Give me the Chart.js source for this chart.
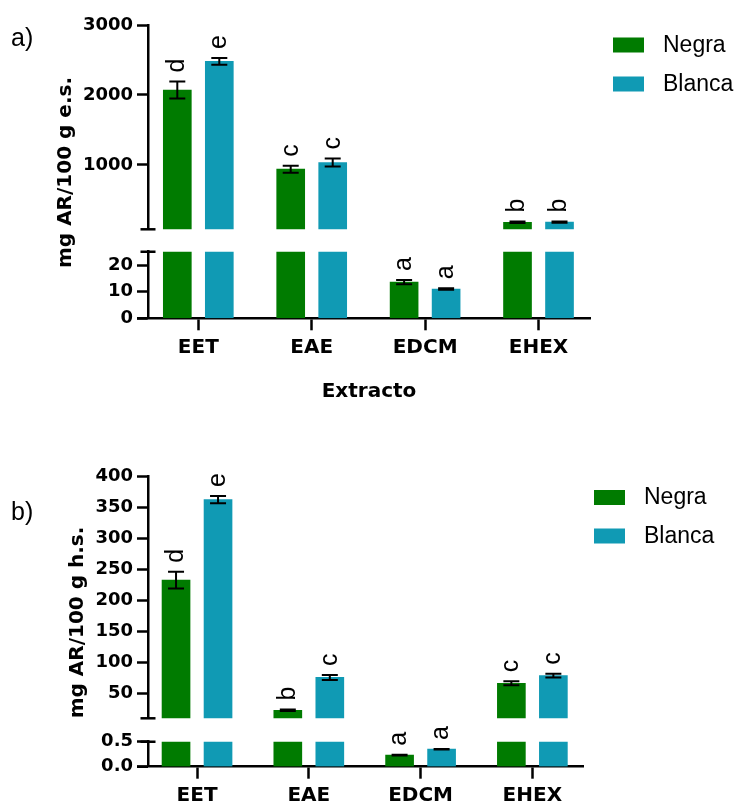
<!DOCTYPE html>
<html><head><meta charset="utf-8">
<script src="https://cdn.jsdelivr.net/npm/chart.js@4.4.1/dist/chart.umd.min.js"></script>
<style>
html,body{margin:0;padding:0;background:#fff;}
#wrap{position:relative;width:735px;height:804px;overflow:hidden;background:#fff;}
.box{position:absolute;left:0;top:0;width:735px;height:804px;}
</style></head><body>
<div id="wrap">
<div class="box"><canvas id="a1"></canvas></div>
<div class="box"><canvas id="a2"></canvas></div>
<div class="box"><canvas id="b1"></canvas></div>
<div class="box"><canvas id="b2"></canvas></div>
</div>
<script>
// ---------- data ----------
const CATEGORIES = ['EET', 'EAE', 'EDCM', 'EHEX'];
const SERIES = ['Negra', 'Blanca'];

// panel a) mg AR/100 g e.s.
const A_NEGRA = [2070, 940, 13.6, 180];
const A_NEGRA_SD = [121, 50, 0.8, 10];
const A_BLANCA = [2480, 1035, 11.0, 183];
const A_BLANCA_SD = [48, 57, 0.3, 10];
const A_NEGRA_LETTERS = ['d', 'c', 'a', 'b'];
const A_BLANCA_LETTERS = ['e', 'c', 'a', 'b'];
const A_UPPER_TICKS = [1000, 2000, 3000];
const A_LOWER_TICKS = [0, 10, 20];
const A_UPPER_RANGE = [80, 3000];
const A_LOWER_RANGE = [0, 25];

// panel b) mg AR/100 g h.s.
const B_NEGRA = [233, 23, 0.23, 66.5];
const B_NEGRA_SD = [13.4, 1.2, 0.008, 3.2];
const B_BLANCA = [363, 76, 0.35, 79];
const B_BLANCA_SD = [6, 4, 0.005, 3];
const B_NEGRA_LETTERS = ['d', 'b', 'a', 'c'];
const B_BLANCA_LETTERS = ['e', 'c', 'a', 'c'];
const B_UPPER_TICKS = [50, 100, 150, 200, 250, 300, 350, 400];
const B_LOWER_TICKS = [0, 0.5];
const B_UPPER_RANGE = [10, 400];
const B_LOWER_RANGE = [0, 0.5];

// ---------- style ----------
const COLORS = ['#007b00', '#109ab4'];
const AXIS_FONT = '"DejaVu Sans", "Liberation Sans", sans-serif';
const TEXT_FONT = '"Liberation Sans", Arial, sans-serif';
const W = 735, H = 804;
const AXW = 2.5;

const deco = {
  id: 'deco',
  afterDatasetsDraw(chart, args, o) {
    const ctx = chart.ctx, ys = chart.scales.y;
    ctx.save();
    chart.data.datasets.forEach((ds, di) => {
      const meta = chart.getDatasetMeta(di);
      meta.data.forEach((bar, i) => {
        const v = ds.data[i].y, e = ds.err[i];
        if (v < ys.min || v > ys.max) return;
        const x = bar.x;
        const yt = ys.getPixelForValue(v + e);
        const yb = ys.getPixelForValue(Math.max(v - e, ys.min));
        ctx.strokeStyle = '#000';
        ctx.lineWidth = 2;
        ctx.beginPath();
        ctx.moveTo(x, yt); ctx.lineTo(x, yb);
        ctx.moveTo(x - 8, yt); ctx.lineTo(x + 8, yt);
        ctx.moveTo(x - 8, yb); ctx.lineTo(x + 8, yb);
        ctx.stroke();
        ctx.save();
        ctx.translate(x, yt - 9);
        ctx.rotate(-Math.PI / 2);
        ctx.font = '25px ' + TEXT_FONT;
        ctx.fillStyle = '#000';
        ctx.textAlign = 'left';
        ctx.textBaseline = 'middle';
        ctx.fillText(ds.letters[i], 0, 0);
        ctx.restore();
      });
    });
    ctx.restore();
  },
  afterDraw(chart, args, o) {
    const ctx = chart.ctx, a = chart.chartArea;
    ctx.save();
    ctx.strokeStyle = '#000';
    ctx.lineWidth = AXW;
    ctx.beginPath();
    if (o.capTop) { ctx.moveTo(a.left - 7.5, a.top); ctx.lineTo(a.left + 7.5, a.top); }
    if (o.capBottom) { ctx.moveTo(a.left - 7.5, a.bottom); ctx.lineTo(a.left + 7.5, a.bottom); }
    if (o.xExtend) { ctx.moveTo(a.left - o.xExtend, a.bottom); ctx.lineTo(a.left, a.bottom); }
    ctx.stroke();
    ctx.fillStyle = '#000';
    if (o.legend) {
      const L = o.legend;
      chart.data.datasets.forEach((ds, i) => {
        const sy = L.y + i * L.step;
        ctx.fillStyle = ds.backgroundColor;
        ctx.fillRect(L.x, sy, 31, 15);
        ctx.fillStyle = '#000';
        ctx.font = '23px ' + TEXT_FONT;
        ctx.textAlign = 'left';
        ctx.textBaseline = 'middle';
        ctx.fillText(ds.label, L.x + 50, sy + 8);
      });
    }
    if (o.panel) {
      ctx.font = '25px ' + TEXT_FONT;
      ctx.textAlign = 'left';
      ctx.textBaseline = 'middle';
      ctx.fillText(o.panel.text, o.panel.x, o.panel.y);
    }
    if (o.yTitle) {
      ctx.save();
      ctx.translate(o.yTitle.x, o.yTitle.y);
      ctx.rotate(-Math.PI / 2);
      ctx.font = 'bold 20px ' + AXIS_FONT;
      ctx.textAlign = 'center';
      ctx.textBaseline = 'middle';
      ctx.fillText(o.yTitle.text, 0, 0);
      ctx.restore();
    }
    ctx.restore();
  }
};

function segChart(id, p) {
  const axisH = p.axisH || 0;
  return new Chart(document.getElementById(id), {
    type: 'bar',
    data: {
      datasets: [
        { label: SERIES[0], data: p.negra.map((v, i) => ({ x: i, y: v })), err: p.nErr, letters: p.nLet,
          backgroundColor: COLORS[0], clip: 0 },
        { label: SERIES[1], data: p.blanca.map((v, i) => ({ x: i, y: v })), err: p.bErr, letters: p.bLet,
          backgroundColor: COLORS[1], clip: 0 }
      ]
    },
    options: {
      responsive: true,
      maintainAspectRatio: false,
      animation: false,
      events: [],
      barThickness: 42,
      maxBarThickness: 28,
      layout: { padding: { left: 0, top: p.top, right: W - p.right, bottom: H - p.bottom - axisH } },
      plugins: {
        legend: { display: false },
        tooltip: { enabled: false },
        deco: p.deco
      },
      scales: {
        x: {
          type: 'linear',
          min: p.xMin, max: p.xMax,
          offset: false,
          display: p.showX,
          afterBuildTicks: s => { s.ticks = CATEGORIES.map((c, i) => ({ value: i })); },
          afterFit: s => { s.height = axisH; },
          ticks: { callback: v => CATEGORIES[v], autoSkip: false, maxRotation: 0, padding: 5,
                   color: '#000', font: { family: AXIS_FONT, size: 20, weight: 'bold' } },
          grid: { display: true, offset: false, drawOnChartArea: false, drawTicks: true, tickLength: 12, tickWidth: AXW, color: '#000' },
          border: { display: true, color: '#000', width: AXW },
          title: p.xTitle ? { display: true, text: p.xTitle, color: '#000', padding: { top: 4, bottom: 4 },
                   font: { family: AXIS_FONT, size: 20, weight: 'bold' } } : { display: false }
        },
        y: {
          type: 'linear',
          min: p.range[0], max: p.range[1],
          stacked: false,
          afterBuildTicks: s => { s.ticks = p.yTicks.map(v => ({ value: v })); },
          afterFit: s => { s.width = 148; },
          ticks: { callback: p.fmt, padding: 4, color: '#000',
                   font: { family: AXIS_FONT, size: 18, weight: 'bold' } },
          grid: { display: true, drawOnChartArea: false, drawTicks: true, tickLength: 11, tickWidth: AXW, color: '#000' },
          border: { display: true, color: '#000', width: AXW }
        }
      }
    },
    plugins: [deco]
  });
}

const AX = { xMin: -0.4436, xMax: 3.454, right: 590 };
const BX = { xMin: -0.4387, xMax: 3.453, right: 583 };

segChart('a1', Object.assign({}, AX, {
  negra: A_NEGRA, blanca: A_BLANCA, nErr: A_NEGRA_SD, bErr: A_BLANCA_SD,
  nLet: A_NEGRA_LETTERS, bLet: A_BLANCA_LETTERS,
  range: A_UPPER_RANGE, yTicks: A_UPPER_TICKS, fmt: v => String(v),
  top: 25, bottom: 229.3, showX: false,
  deco: { capBottom: true, legend: { x: 613, y: 37.5, step: 39 },
          panel: { text: 'a)', x: 11, y: 39 },
          yTitle: { text: 'mg AR/100 g e.s.', x: 66, y: 172.5 } }
}));
segChart('a2', Object.assign({}, AX, {
  negra: A_NEGRA, blanca: A_BLANCA, nErr: A_NEGRA_SD, bErr: A_BLANCA_SD,
  nLet: A_NEGRA_LETTERS, bLet: A_BLANCA_LETTERS,
  range: A_LOWER_RANGE, yTicks: A_LOWER_TICKS, fmt: v => String(v),
  top: 251.7, bottom: 318.3, showX: true, axisH: 89.4, xTitle: 'Extracto',
  deco: { capTop: true, xExtend: 11 }
}));
segChart('b1', Object.assign({}, BX, {
  negra: B_NEGRA, blanca: B_BLANCA, nErr: B_NEGRA_SD, bErr: B_BLANCA_SD,
  nLet: B_NEGRA_LETTERS, bLet: B_BLANCA_LETTERS,
  range: B_UPPER_RANGE, yTicks: B_UPPER_TICKS, fmt: v => String(v),
  top: 476.7, bottom: 718.3, showX: false,
  deco: { capBottom: true, legend: { x: 594, y: 490, step: 38.5 },
          panel: { text: 'b)', x: 11, y: 513 },
          yTitle: { text: 'mg AR/100 g h.s.', x: 78, y: 622.5 } }
}));
segChart('b2', Object.assign({}, BX, {
  negra: B_NEGRA, blanca: B_BLANCA, nErr: B_NEGRA_SD, bErr: B_BLANCA_SD,
  nLet: B_NEGRA_LETTERS, bLet: B_BLANCA_LETTERS,
  range: B_LOWER_RANGE, yTicks: B_LOWER_TICKS, fmt: v => v.toFixed(1),
  top: 741.7, bottom: 766.7, showX: true, axisH: 37.3,
  deco: { capTop: true, xExtend: 11 }
}));
</script>
</body></html>
